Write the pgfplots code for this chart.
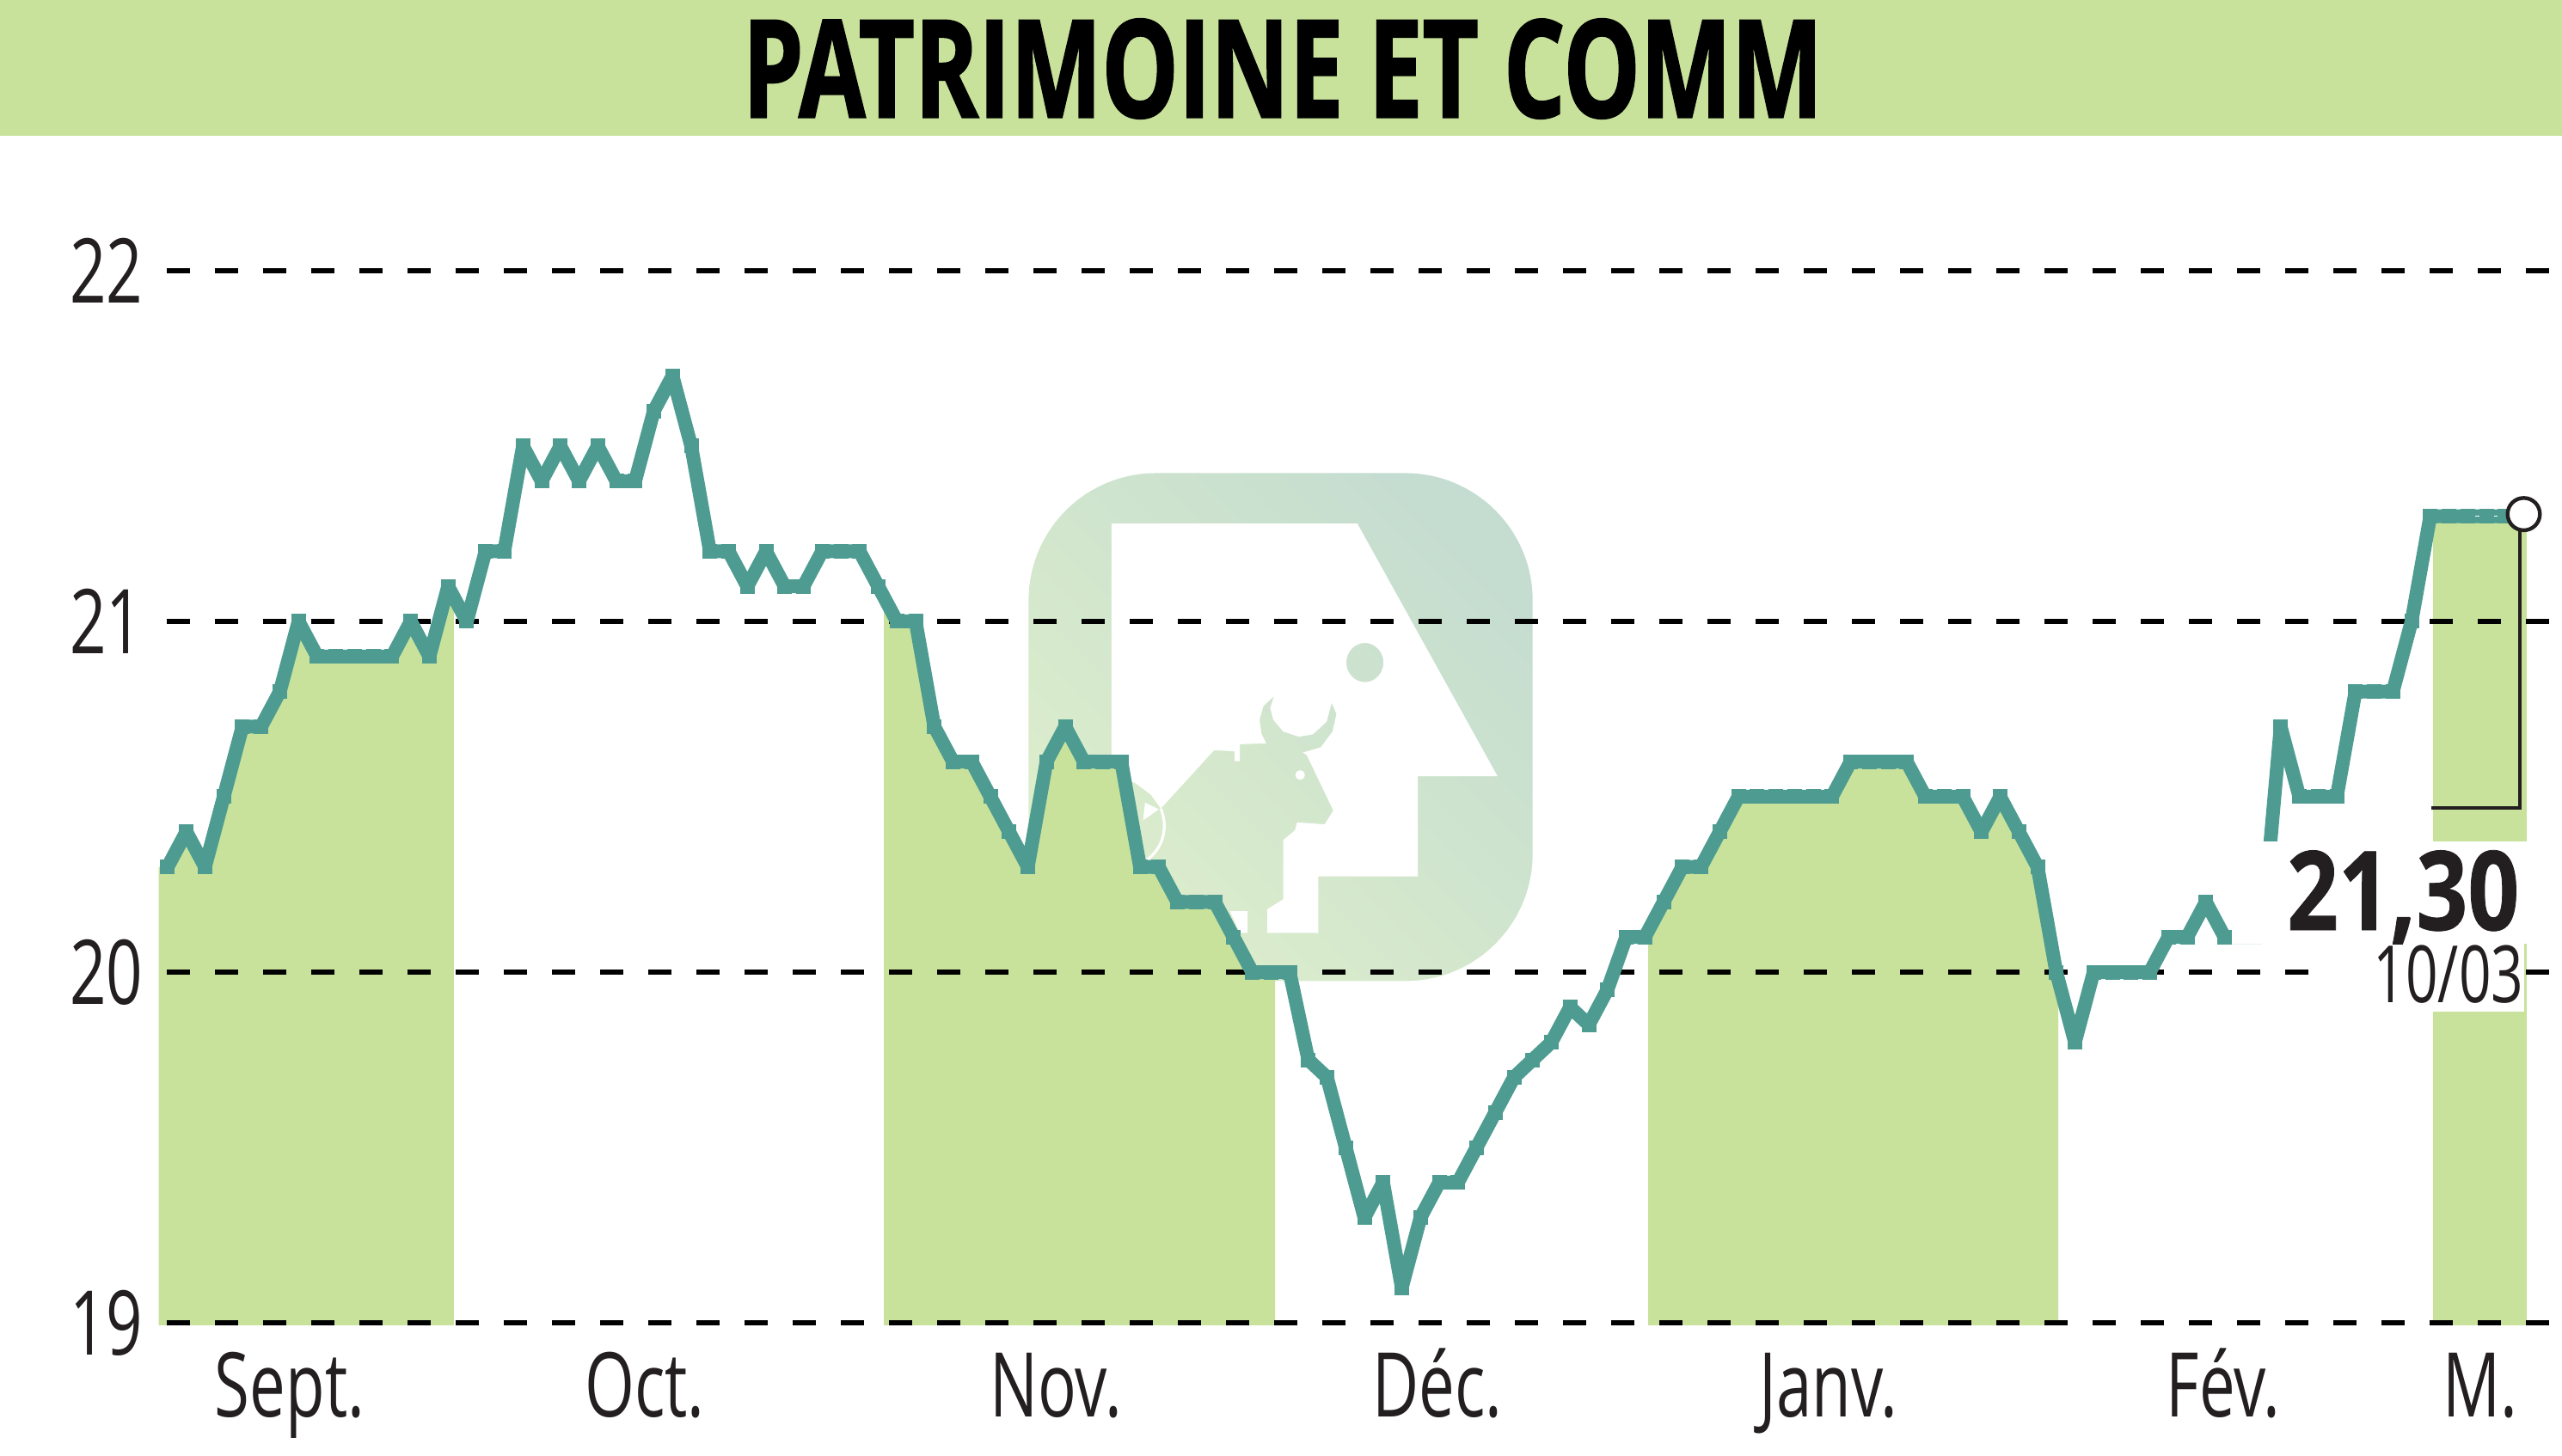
\documentclass[border=0pt]{standalone}
\usepackage{pgfplots}
\pgfplotsset{compat=1.18}
\usepackage{fontspec}
\setmainfont{Open Sans}
\newfontfamily\condfont[FakeStretch=0.715]{Open Sans}
\newfontfamily\boldfont[FakeStretch=0.82, FakeBold=0.6]{Open Sans Bold}
\newfontfamily\titlefont[FakeStretch=0.71, FakeBold=1.2]{Open Sans Bold}
\definecolor{bandgreen}{HTML}{C8E29C}
\definecolor{linegreen}{HTML}{4E9C91}
\definecolor{inkblack}{HTML}{231F20}
\definecolor{logolight}{HTML}{DDEECB}
\definecolor{logodark}{HTML}{C5DDD0}
% x is in reference pixels, y in price; 1 px = 0.25pt
\begin{document}
\begin{tikzpicture}
\begin{axis}[
  scale only axis,
  width=698.85pt, height=384.75pt,
  xmin=184.6, xmax=2980,
  ymin=19, ymax=22.772,
  axis x line=bottom, axis y line=left,
  axis line style={draw=none},
  clip=false,
  xtick={337,750,1228,1672,2127,2586,2885},
  xticklabels={Sept.,Oct.,Nov.,D\'ec.,Janv.,F\'ev.,M.},
  ytick={19,20,21,22},
  major tick length=0pt,
  tick label style={font=\condfont\fontsize{26}{28}\selectfont, text=inkblack},
  xticklabel style={anchor=base, yshift=-27.25pt},
  yticklabel style={xshift=-1pt},
  /pgf/number format/assume math mode=true,
]
% page extent
\path (axis cs:0,18.622) rectangle (axis cs:2980,22.772);
% title band
\fill[bandgreen] (axis cs:0,22.772) rectangle (axis cs:2980,22.385);
\node[inner sep=0pt, text=black] at (axis cs:1492,22.576) {\titlefont\fontsize{39.6}{41}\selectfont PATRIMOINE ET COMM};

% logo, drawn in zoomed pixels of the crop at (1100,500)
\begin{scope}[shift={(axis cs:1100,21.5466)}, x=0.11478pt, y=-0.11478pt]
  \shade[left color=logolight, right color=logodark, shading angle=135,
         rounded corners=37pt] (210,110) rectangle (1487,1397);
  \fill[white, even odd rule]
    (420,238) -- (1043,238) -- (1398,878) -- (1196,878) -- (1196,1132) -- (944,1132) -- (944,1275)
    -- (815,1275) -- (815,1215) -- (855,1190) -- (855,1040) -- (885,1015) -- (890,995) -- (960,1000)
    -- (982,965) -- (915,825) -- (905,818) -- (950,805) -- (980,765) -- (990,720) -- (978,692)
    -- (965,740) -- (930,772) -- (895,778) -- (855,765) -- (830,735) -- (822,705) -- (832,675)
    -- (805,700) -- (795,735) -- (800,770) -- (812,795) -- (745,797) -- (745,840) -- (732,840)
    -- (732,815) -- (680,812) -- (545,960) -- (520,925) -- (480,895) -- (420,880) -- cycle
    (1062,590) ellipse (5.4pt and 5.7pt);
  \fill[white] (898,875) circle (1.4pt);
  \fill[white] (720,1220) -- (765,1220) -- (765,1275) -- (745,1275) -- cycle;
  % tail
  \draw[white, line width=0.8pt] (545,960) .. controls (565,1010) and (550,1060) .. (510,1090);
  \fill[white] (500,990) -- (540,962) -- (505,945) -- cycle;
\end{scope}

% shaded periods under the curve
\addplot[draw=none, fill=bandgreen] coordinates {
  (184.6,18.993) (184.6,20.3) (195,20.3) (216.75,20.4) (238.5,20.3) (260.25,20.5) (282,20.7) (303.75,20.7)
  (325.5,20.8) (347.25,21.0) (369,20.9) (390.75,20.9) (412.5,20.9) (434.25,20.9) (456,20.9) (477.75,21.0)
  (499.5,20.9) (521.25,21.1) (528,21.07) (528,18.993)};
\addplot[draw=none, fill=bandgreen] coordinates {
  (1028,18.993) (1028,21.07) (1043.25,21.0) (1065,21.0) (1086.75,20.7) (1108.5,20.6) (1130.25,20.6) (1152,20.5)
  (1173.75,20.4) (1195.5,20.3) (1217.25,20.6) (1239,20.7) (1260.75,20.6) (1282.5,20.6) (1304.25,20.6)
  (1326,20.3) (1347.75,20.3) (1369.5,20.2) (1391.25,20.2) (1413,20.2) (1434.75,20.1) (1456.5,20.0) (1483,20.0) (1483,18.993)};
\addplot[draw=none, fill=bandgreen] coordinates {
  (1917,18.993) (1917,20.1) (1935,20.2) (1956.75,20.3) (1978.5,20.3) (2000.25,20.4) (2022,20.5) (2043.75,20.5)
  (2065.5,20.5) (2087.25,20.5) (2109,20.5) (2130.75,20.5) (2152.5,20.6) (2174.25,20.6) (2196,20.6) (2217.75,20.6)
  (2239.5,20.5) (2261.25,20.5) (2283,20.5) (2304.75,20.4) (2326.5,20.5) (2348.25,20.4) (2370,20.3) (2391.75,20.0)
  (2394,19.98) (2394,18.993)};
\addplot[draw=none, fill=bandgreen] coordinates {
  (2830,18.993) (2830,21.3) (2938.6,21.3) (2938.6,18.993)};

% price levels
\addplot[black, line width=1.3pt, dash pattern=on 6.85pt off 7.15pt] coordinates {(194,22) (2977,22)};
\addplot[black, line width=1.3pt, dash pattern=on 6.85pt off 7.15pt] coordinates {(194,21) (2977,21)};
\addplot[black, line width=1.3pt, dash pattern=on 6.85pt off 7.15pt] coordinates {(194,20) (2977,20)};
\addplot[black, line width=1.3pt, dash pattern=on 6.85pt off 7.15pt] coordinates {(194,19) (2977,19)};

% price: the stretch behind the label panel has no marks, the panel hides it
\addplot[linegreen, line width=4pt, line join=bevel, no markers] coordinates {
  (2587.5,20.1) (2609.25,20.1) (2631,20.1) (2652.75,20.7)};
\addplot[linegreen, line width=4pt, line join=bevel, mark=square*, mark size=2pt, mark options={solid, fill=linegreen, line width=0pt}] coordinates {
  (195,20.3) (216.75,20.4) (238.5,20.3) (260.25,20.5) (282,20.7) (303.75,20.7) (325.5,20.8) (347.25,21.0)
  (369,20.9) (390.75,20.9) (412.5,20.9) (434.25,20.9) (456,20.9) (477.75,21.0) (499.5,20.9) (521.25,21.1)
  (543,21.0) (564.75,21.2) (586.5,21.2) (608.25,21.5) (630,21.4) (651.75,21.5) (673.5,21.4) (695.25,21.5)
  (717,21.4) (738.75,21.4) (760.5,21.6) (782.25,21.7) (804,21.5) (825.75,21.2) (847.5,21.2) (869.25,21.1)
  (891,21.2) (912.75,21.1) (934.5,21.1) (956.25,21.2) (978,21.2) (999.75,21.2) (1021.5,21.1) (1043.25,21.0)
  (1065,21.0) (1086.75,20.7) (1108.5,20.6) (1130.25,20.6) (1152,20.5) (1173.75,20.4) (1195.5,20.3) (1217.25,20.6)
  (1239,20.7) (1260.75,20.6) (1282.5,20.6) (1304.25,20.6) (1326,20.3) (1347.75,20.3) (1369.5,20.2) (1391.25,20.2)
  (1413,20.2) (1434.75,20.1) (1456.5,20.0) (1478.25,20.0) (1500,20.0) (1521.75,19.75) (1543.5,19.7) (1565.25,19.5)
  (1587,19.3) (1608.75,19.4) (1630.5,19.1) (1652.25,19.3) (1674,19.4) (1695.75,19.4) (1717.5,19.5) (1739.25,19.6)
  (1761,19.7) (1782.75,19.75) (1804.5,19.8) (1826.25,19.9) (1848,19.85) (1869.75,19.95) (1891.5,20.1) (1913.25,20.1)
  (1935,20.2) (1956.75,20.3) (1978.5,20.3) (2000.25,20.4) (2022,20.5) (2043.75,20.5) (2065.5,20.5) (2087.25,20.5)
  (2109,20.5) (2130.75,20.5) (2152.5,20.6) (2174.25,20.6) (2196,20.6) (2217.75,20.6) (2239.5,20.5) (2261.25,20.5)
  (2283,20.5) (2304.75,20.4) (2326.5,20.5) (2348.25,20.4) (2370,20.3) (2391.75,20.0) (2413.5,19.8) (2435.25,20.0)
  (2457,20.0) (2478.75,20.0) (2500.5,20.0) (2522.25,20.1) (2544,20.1) (2565.75,20.2) (2587.5,20.1)};
\addplot[linegreen, line width=4pt, line join=bevel, mark=square*, mark size=2pt, mark options={solid, fill=linegreen, line width=0pt}] coordinates {
  (2652.75,20.7) (2674.5,20.5) (2696.25,20.5) (2718,20.5) (2739.75,20.8) (2761.5,20.8) (2783.25,20.8)
  (2805,21.0) (2826.75,21.3) (2848.5,21.3) (2870.25,21.3) (2892,21.3) (2913.75,21.3) (2935.5,21.3)};
\addplot[white, line width=0.3pt] coordinates {(2872,21.3) (2917,21.3)};

% white panels that mask the curve behind the last value
\fill[white] (axis cs:2595,20.372) rectangle (axis cs:2939,20.081);
\fill[white] (axis cs:2700,20.081) rectangle (axis cs:2936,19.887);

% last value pointer
\addplot[inkblack, line width=1.2pt] coordinates {(2828,20.468) (2931,20.468) (2931,21.3)};
\addplot[only marks, mark=*, mark size=4.7pt, mark options={fill=white, draw=inkblack, line width=1.1pt}] coordinates {(2935.5,21.306)};
\node[anchor=base east, inner sep=0pt, text=inkblack] at (axis cs:2931,20.12) {\boldfont\fontsize{32}{34}\selectfont 21,30};
\node[anchor=base east, inner sep=0pt, text=inkblack] at (axis cs:2936,19.912) {\condfont\fontsize{23}{25}\selectfont 10/03};
\end{axis}
\end{tikzpicture}
\end{document}
